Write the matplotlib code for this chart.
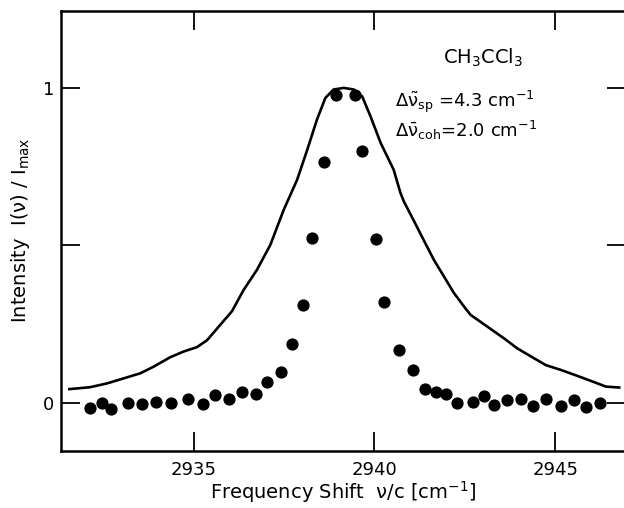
import matplotlib
matplotlib.use("Agg")
import matplotlib.pyplot as plt

plt.rcParams['font.family'] = ['DejaVu Sans']
plt.rcParams['mathtext.default'] = 'regular'

# measured spectrum (solid line)
line_x = [2931.56, 2932.13, 2932.6, 2933.06, 2933.52, 2933.89, 2934.35, 2934.72,
          2935.09, 2935.37, 2935.73, 2936.06, 2936.38, 2936.75, 2937.12, 2937.49,
          2937.86, 2938.14, 2938.41, 2938.64, 2938.87, 2939.15, 2939.43, 2939.66,
          2939.89, 2940.17, 2940.53, 2940.72, 2940.81, 2941.09, 2941.37, 2941.64,
          2941.92, 2942.2, 2942.52, 2942.66, 2943.12, 2943.58, 2943.95, 2944.41,
          2944.74, 2945.15, 2945.61, 2946.08, 2946.4, 2946.77]
line_y = [0.045, 0.051, 0.063, 0.079, 0.095, 0.116, 0.146, 0.164,
          0.178, 0.200, 0.248, 0.292, 0.359, 0.423, 0.502, 0.613,
          0.708, 0.803, 0.899, 0.967, 0.994, 0.999, 0.994, 0.972,
          0.909, 0.825, 0.740, 0.666, 0.640, 0.578, 0.515, 0.455,
          0.402, 0.349, 0.300, 0.280, 0.243, 0.206, 0.174, 0.143,
          0.121, 0.106, 0.087, 0.067, 0.053, 0.050]

# coherent spectrum (dots)
dots_x = [2932.13, 2932.47, 2932.71, 2933.19, 2933.57, 2933.95, 2934.37, 2934.83,
          2935.25, 2935.59, 2935.98, 2936.34, 2936.73, 2937.04, 2937.42, 2937.73,
          2938.02, 2938.27, 2938.61, 2938.93, 2939.45, 2939.66, 2940.04, 2940.27,
          2940.69, 2941.06, 2941.41, 2941.69, 2941.99, 2942.29, 2942.73, 2943.03,
          2943.31, 2943.66, 2944.04, 2944.38, 2944.75, 2945.16, 2945.51, 2945.86,
          2946.24]
dots_y = [-0.016, 0.002, -0.017, 0.001, -0.003, 0.005, 0.001, 0.013,
          -0.003, 0.025, 0.013, 0.036, 0.029, 0.067, 0.099, 0.189,
          0.313, 0.524, 0.764, 0.977, 0.977, 0.798, 0.521, 0.322,
          0.169, 0.106, 0.045, 0.036, 0.030, 0.001, 0.005, 0.023,
          -0.006, 0.009, 0.015, -0.010, 0.013, -0.010, 0.011, -0.012,
          0.002]

xticks = [2935, 2940, 2945]
yticks = [0, 0.5, 1]
ytick_labels = ['0', '', '1']

fig = plt.figure(figsize=(6.24, 5.08), dpi=100)
ax = fig.add_axes([0.0978, 0.1122, 0.905, 0.867])

ax.plot(line_x, line_y, color='black', lw=1.9)
ax.plot(dots_x, dots_y, 'o', color='black', ms=7.8)

ax.set_xlim(2931.33, 2946.95)
ax.set_ylim(-0.151, 1.244)

ax.set_xticks(xticks)
ax.set_yticks(yticks)
ax.set_yticklabels(ytick_labels)
ax.tick_params(direction='in', length=14, width=1.3, labelsize=13,
               top=True, right=True)
ax.tick_params(axis='x', pad=7)
ax.tick_params(axis='y', pad=5)

for s in ['left', 'top', 'bottom']:
    ax.spines[s].set_linewidth(1.8)
ax.spines['right'].set_visible(False)

ax.set_xlabel(r'Frequency Shift  ν/c [cm$^{-1}$]', fontsize=14, labelpad=0)
ax.set_ylabel(r'Intensity  I(ν) / I$_{max}$', fontsize=14, labelpad=8)

ax.text(2942.99, 1.075, r'CH$_3$CCl$_3$', fontsize=14, ha='center', va='baseline')
ax.text(2940.58, 0.939, r'$\Delta\tilde{\nu}_{sp}$ =4.3 cm$^{-1}$', fontsize=13,
        ha='left', va='baseline')
ax.text(2940.58, 0.844, r'$\Delta\bar{\nu}_{coh}$=2.0 cm$^{-1}$', fontsize=13,
        ha='left', va='baseline')

fig.savefig('out.png', dpi=100)
